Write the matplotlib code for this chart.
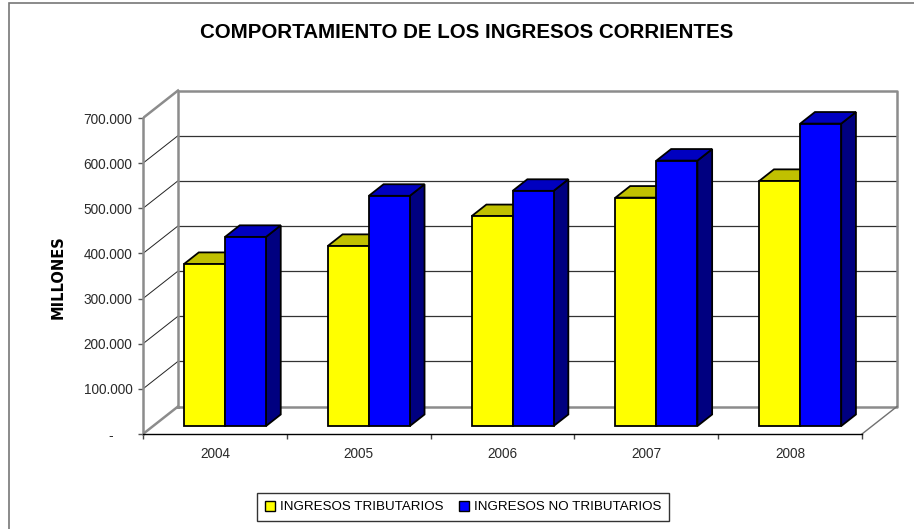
import numpy as np
import matplotlib
matplotlib.use("Agg")
import matplotlib.pyplot as plt
from matplotlib.patches import Polygon, Rectangle
from matplotlib.lines import Line2D

plt.rcParams['font.family'] = ['Liberation Sans', 'DejaVu Sans']

# data (millones)
years = ['2004', '2005', '2006', '2007', '2008']
tributarios = [359000, 399000, 465000, 506000, 543000]
no_tributarios = [419000, 510000, 521000, 588000, 670000]
series_names = ['INGRESOS TRIBUTARIOS', 'INGRESOS NO TRIBUTARIOS']
yticks = [0, 100000, 200000, 300000, 400000, 500000, 600000, 700000]
ytick_labels = ['-     ', '100.000', '200.000', '300.000', '400.000', '500.000', '600.000', '700.000']

# colours: front, top, side
yellow = ('#FFFF00', '#C0C000', '#808000')
blue = ('#0000FF', '#0000C0', '#000080')

W, H = 914, 529
fig = plt.figure(figsize=(W / 100, H / 100), dpi=100)

# axes placed in pixel terms of the reference
left_px, right_px, top_px, bot_px = 143, 905, 80, 434
ax = fig.add_axes([left_px / W, 1 - bot_px / H, (right_px - left_px) / W, (bot_px - top_px) / H])
px_per_cat = 143.8
px_per_val = 45.14 / 100000
ax.set_xlim(0, (right_px - left_px) / px_per_cat)
ax.set_ylim(0, (bot_px - top_px) / px_per_val)
ax.patch.set_alpha(0)

# depth offset of the back wall, in data units
DX = 35 / px_per_cat
DY = 27.5 / px_per_val
ncat = len(years)
vmax = yticks[-1]


def pt(x, v, d):
    return (x + d * DX, v + d * DY)


wall_c = '#8c8c8c'
# back wall gridlines
for v in yticks[1:-1]:
    ax.add_line(Line2D(*zip(pt(0, v, 1), pt(ncat, v, 1)), color='#333333', lw=0.9, zorder=1))
    ax.add_line(Line2D(*zip(pt(0, v, 0), pt(0, v, 1)), color='#222222', lw=0.7, zorder=1))
# walls outline
ax.add_line(Line2D(*zip(pt(0, 0, 1), pt(0, vmax, 1), pt(ncat, vmax, 1), pt(ncat, 0, 1), pt(0, 0, 1)),
                   color=wall_c, lw=1.8, zorder=1))
ax.add_line(Line2D(*zip(pt(0, vmax, 0), pt(0, vmax, 1)), color=wall_c, lw=1.8, zorder=1))
ax.add_line(Line2D(*zip(pt(0, 0, 0), pt(0, 0, 1)), color=wall_c, lw=1.8, zorder=1))
ax.add_line(Line2D(*zip(pt(ncat, 0, 0), pt(ncat, 0, 1)), color='#707070', lw=1.0, zorder=1))

# 3d bars
bw = 0.285
d0, d1 = 0.29, 0.71
for i in range(ncat):
    for s, (vals, cols) in enumerate([(tributarios, yellow), (no_tributarios, blue)]):
        v = vals[i]
        xl = i + 0.5 - bw + s * bw
        xr = xl + bw
        side = [pt(xr, 0, d0), pt(xr, 0, d1), pt(xr, v, d1), pt(xr, v, d0)]
        top = [pt(xl, v, d0), pt(xr, v, d0), pt(xr, v, d1), pt(xl, v, d1)]
        front = [pt(xl, 0, d0), pt(xr, 0, d0), pt(xr, v, d0), pt(xl, v, d0)]
        for poly, c in [(side, cols[2]), (top, cols[1]), (front, cols[0])]:
            ax.add_patch(Polygon(poly, closed=True, facecolor=c, edgecolor='black',
                                 lw=1.3, joinstyle='miter', zorder=3))

# axes
for sp in ['top', 'right']:
    ax.spines[sp].set_visible(False)
ax.spines['left'].set_bounds(0, vmax)
ax.spines['left'].set_color(wall_c)
ax.spines['left'].set_linewidth(1.8)
ax.spines['bottom'].set_bounds(0, ncat)
ax.spines['bottom'].set_color('black')
ax.spines['bottom'].set_linewidth(1.0)
ax.spines['bottom'].set_zorder(4)

ax.set_yticks(yticks)
ax.set_yticklabels(ytick_labels)
ax.tick_params(axis='y', length=3.5, width=1, color='#555555', pad=4, labelsize=9.8, labelcolor='#2a2a2a')
ax.set_xticks(np.arange(ncat + 1))
ax.set_xticklabels([])
ax.tick_params(axis='x', which='major', length=3.5, width=1, color='#444444')
ax.set_xticks(np.arange(ncat) + 0.5, minor=True)
ax.set_xticklabels(years, minor=True)
ax.tick_params(axis='x', which='minor', length=0, pad=9, labelsize=9.8, labelcolor='#2a2a2a')

fig.text(58 / W, 1 - 277 / H, 'MILLONES', rotation=90, ha='center', va='center',
         fontsize=10.5, fontweight='heavy', family='DejaVu Sans')
fig.text(467 / W, 1 - 33 / H, 'COMPORTAMIENTO DE LOS INGRESOS CORRIENTES', ha='center', va='center',
         fontsize=14.8, fontweight='bold')

# legend
handles = [Line2D([], [], ls='none', marker='s', markersize=7, markerfacecolor=c[0],
                  markeredgecolor='black', markeredgewidth=1.0) for c in (yellow, blue)]
fig.legend(handles, series_names, loc='center', bbox_to_anchor=(463 / W, 1 - 507 / H), ncol=2,
           frameon=True, fancybox=False, edgecolor='black', fontsize=9.6, handlelength=0.8,
           handletextpad=0.3, columnspacing=1.2, borderpad=0.6)

# chart area border
fig.patches.append(Rectangle((9 / W, -0.05), 1.1, 1 - 3 / H + 0.05, transform=fig.transFigure,
                             fill=False, edgecolor='#777777', lw=1.2))

fig.savefig('out.png', dpi=100)
